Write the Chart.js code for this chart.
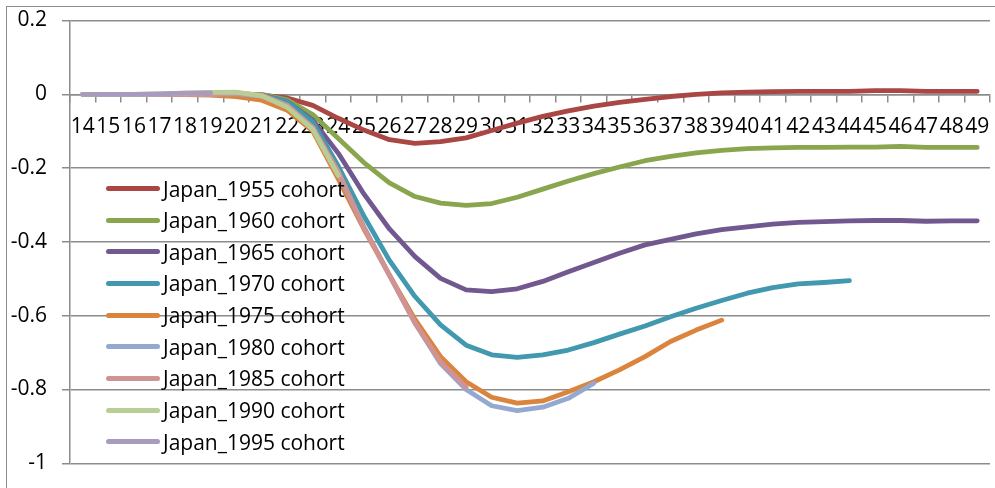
<!DOCTYPE html>
<html><head><meta charset="utf-8">
<script src="https://cdn.jsdelivr.net/npm/chart.js@4.4.0/dist/chart.umd.min.js"></script>
<style>
html,body{margin:0;padding:0;background:#fff;overflow:hidden}
#wrap{position:relative;width:995px;height:488px;overflow:hidden}
#frame{position:absolute;left:6px;top:6px;width:1200px;height:700px;border-left:1.5px solid #8c8c8c;border-top:1.5px solid #8c8c8c}
canvas{position:absolute;left:0;top:0}
#legend{position:absolute;left:0;top:0;font-family:'Open Sans';font-size:21px;color:#000}
.item{position:absolute;left:106px;height:32px;display:flex;align-items:center;white-space:nowrap}
.sw{width:54px;height:5px;border-radius:3px;margin-right:3px}
</style></head>
<body><div id="wrap"><div id="frame"></div><canvas id="c" width="995" height="488"></canvas><div id="legend"></div></div>
<script>
const ages = ["14","15","16","17","18","19","20","21","22","23","24","25","26","27","28","29","30","31","32","33","34","35","36","37","38","39","40","41","42","43","44","45","46","47","48","49"];
const seriesNames = ["Japan_1955 cohort","Japan_1960 cohort","Japan_1965 cohort","Japan_1970 cohort","Japan_1975 cohort","Japan_1980 cohort","Japan_1985 cohort","Japan_1990 cohort","Japan_1995 cohort"];
const colors = ["#AA4643","#89A54E","#71588F","#4198AF","#DB843D","#93A9CF","#D19392","#B9CD96","#A99BBD"];
const japan1955 = [0,0,0,0,0,0,0,-0.002,-0.01,-0.03,-0.065,-0.097,-0.123,-0.133,-0.128,-0.118,-0.098,-0.078,-0.06,-0.045,-0.032,-0.022,-0.014,-0.006,0,0.004,0.006,0.007,0.008,0.008,0.008,0.01,0.01,0.008,0.008,0.008];
const japan1960 = [0,0,0,0,0,0,0,0,-0.015,-0.055,-0.12,-0.185,-0.24,-0.277,-0.295,-0.301,-0.296,-0.279,-0.257,-0.235,-0.215,-0.197,-0.18,-0.168,-0.159,-0.152,-0.147,-0.145,-0.144,-0.144,-0.143,-0.143,-0.141,-0.144,-0.144,-0.144];
const japan1965 = [0,0,0,0,0,0,0,-0.002,-0.02,-0.07,-0.16,-0.27,-0.365,-0.44,-0.499,-0.53,-0.535,-0.527,-0.507,-0.481,-0.456,-0.431,-0.408,-0.393,-0.378,-0.367,-0.359,-0.352,-0.347,-0.345,-0.343,-0.342,-0.342,-0.344,-0.343,-0.343];
const japan1970 = [0,0,0,0,0,0,0,-0.003,-0.02,-0.075,-0.195,-0.33,-0.45,-0.548,-0.625,-0.68,-0.706,-0.713,-0.706,-0.693,-0.673,-0.65,-0.628,-0.603,-0.58,-0.559,-0.539,-0.524,-0.514,-0.51,-0.505];
const japan1975 = [0,0,0,0,-0.001,-0.002,-0.006,-0.016,-0.043,-0.1,-0.23,-0.365,-0.49,-0.61,-0.711,-0.779,-0.821,-0.837,-0.831,-0.806,-0.779,-0.747,-0.711,-0.67,-0.639,-0.612];
const japan1980 = [0,0,0,0,0,0,0.002,-0.005,-0.03,-0.09,-0.215,-0.36,-0.49,-0.62,-0.73,-0.8,-0.844,-0.857,-0.848,-0.824,-0.783];
const japan1985 = [0,0,0,0,0,0,0.004,-0.002,-0.03,-0.09,-0.21,-0.36,-0.49,-0.62,-0.725,-0.793];
const japan1990 = [0,0,0,0.001,0.003,0.005,0.006,-0.004,-0.035,-0.095,-0.22];
const japan1995 = [0,0,0,0.001,0.003,0.004];
const seriesValues = [japan1955,japan1960,japan1965,japan1970,japan1975,japan1980,japan1985,japan1990,japan1995];

const labelFont = {family: "'Open Sans'", size: 21};
const gridColor = '#8c8c8c';

new Chart(document.getElementById('c'), {
  type: 'line',
  data: {
    labels: ages,
    datasets: seriesNames.map((n, i) => ({
      label: n, data: seriesValues[i], borderColor: colors[i], backgroundColor: colors[i],
      borderWidth: 4.8, pointRadius: 0, pointHoverRadius: 0, tension: 0, fill: false,
      order: 8 - i, borderCapStyle: 'round', borderJoinStyle: 'round'
    }))
  },
  options: {
    responsive: false, animation: false, devicePixelRatio: 1,
    layout: {padding: {left: 0, top: 20.5, right: 5, bottom: 24.7}},
    plugins: {legend: {display: false}, tooltip: {enabled: false}},
    scales: {
      x: {
        type: 'category', position: {y: 0}, offset: true,
        grid: {display: true, drawOnChartArea: false, offset: true, tickLength: 7, color: gridColor, lineWidth: 1.5},
        border: {display: true, color: gridColor, width: 1.5},
        ticks: {autoSkip: false, maxRotation: 0, minRotation: 0, color: '#000', font: labelFont, padding: 13.5},
        afterFit: s => { s.height = 0; s.paddingLeft = 0; s.paddingRight = 0; }
      },
      y: {
        min: -1, max: 0.2,
        ticks: {stepSize: 0.2, color: '#000', font: labelFont, padding: 15,
          callback: v => String(Math.round(v * 10) / 10)},
        grid: {color: gridColor, lineWidth: 1.5, tickLength: 8},
        border: {color: gridColor, width: 1.5},
        afterFit: s => { s.width = 70; s.paddingTop = 0; s.paddingBottom = 0; }
      }
    }
  }
});

const leg = document.getElementById('legend');
seriesNames.forEach((n, i) => {
  const d = document.createElement('div');
  d.className = 'item';
  d.style.top = (188.5 + i * 31.65 - 16) + 'px';
  d.innerHTML = '<span class="sw" style="background:' + colors[i] + '"></span><span>' + n + '</span>';
  leg.appendChild(d);
});
</script></body></html>
